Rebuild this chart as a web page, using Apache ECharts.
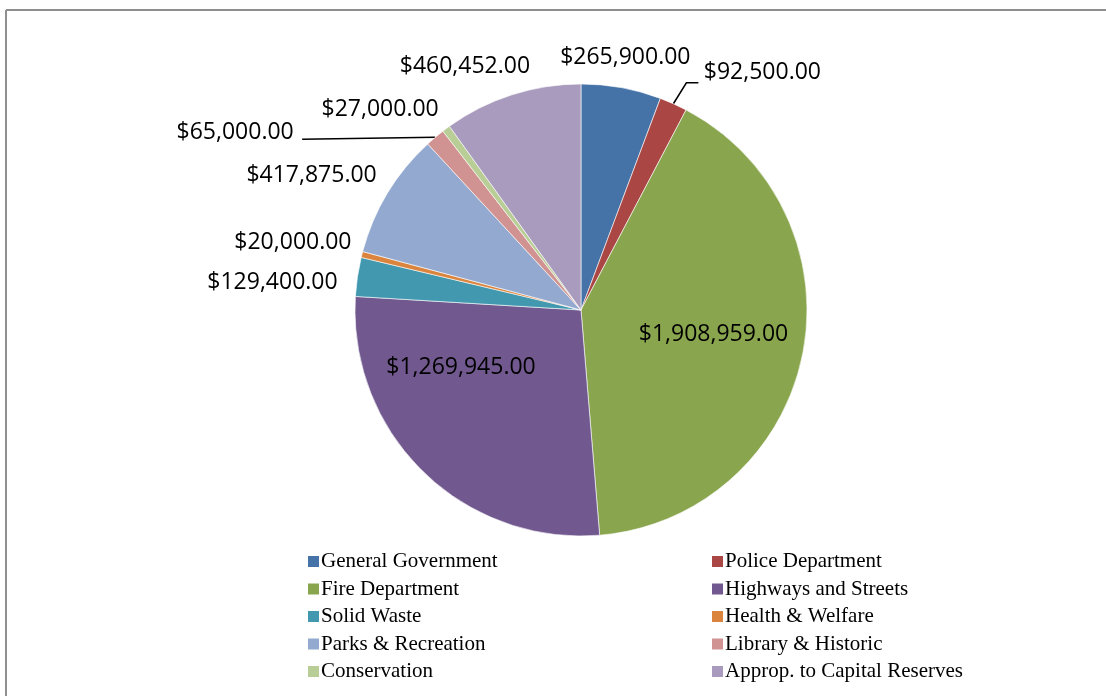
<!DOCTYPE html>
<html>
<head>
<meta charset="utf-8">
<script src="https://cdn.jsdelivr.net/npm/echarts@6/dist/echarts.min.js"></script>
<style>
html,body{margin:0;padding:0;background:#fff;overflow:hidden;}
#main{width:1106px;height:696px;}
</style>
</head>
<body>
<div id="main"></div>
<script>
// ---- data ----
const categories = [
  'General Government', 'Police Department', 'Fire Department', 'Highways and Streets',
  'Solid Waste', 'Health & Welfare', 'Parks & Recreation', 'Library & Historic',
  'Conservation', 'Approp. to Capital Reserves'
];
const values = [265900, 92500, 1908959, 1269945, 129400, 20000, 417875, 65000, 27000, 460452];
const colors = ['#4572A7', '#AA4643', '#89A54E', '#71588F', '#4198AF', '#DB843D', '#93A9CF', '#D19392', '#B9CD96', '#A99BBD'];

// ---- label layout (offset of label centre from the outer middle of each slice) ----
const labelOffsets = [[4,-30],[89,-31],[-89,-21],[38,-104],[-85,6],[-69,-12],[-76,-18],[-200,-5],[-66,-19],[-47,-28]];
// leader line bends (relative to slice outer mid point), only where a leader line is drawn
const leaderLines = {1: [[13,-21],[25,-21]], 7: [[-67,1],[-133,2]]};

const fmt = v => '$' + v.toLocaleString('en-US', {minimumFractionDigits: 2, maximumFractionDigits: 2});

const chart = echarts.init(document.getElementById('main'));

function edgePoint(idx) {
  const data = chart.getModel().getSeriesByIndex(0).getData();
  const l = data.getItemLayout(idx);
  const mid = (l.startAngle + l.endAngle) / 2;
  return [l.cx + l.r * Math.cos(mid), l.cy + l.r * Math.sin(mid)];
}

const pieData = categories.map((c, i) => ({
  name: c,
  value: values[i],
  itemStyle: {color: colors[i]},
  labelLine: {show: !!leaderLines[i]}
}));

const legendStyle = {
  orient: 'vertical',
  icon: 'rect',
  itemWidth: 11,
  itemHeight: 11,
  itemGap: 6.5,
  top: 551,
  padding: 0,
  itemStyle: {borderWidth: 0},
  textStyle: {fontFamily: 'Liberation Serif', fontSize: 21, color: '#000', lineHeight: 21, padding: [0,0,0,-3]},
  selectedMode: false
};

chart.setOption({
  animation: false,
  backgroundColor: '#fff',
  graphic: [
    {type: 'line', shape: {x1: 6, y1: 10, x2: 1106, y2: 10}, style: {stroke: '#8f8f8f', lineWidth: 2}, silent: true},
    {type: 'line', shape: {x1: 6, y1: 10, x2: 6, y2: 696}, style: {stroke: '#8f8f8f', lineWidth: 2}, silent: true}
  ],
  legend: [
    Object.assign({}, legendStyle, {left: 308, data: categories.filter((c, i) => i % 2 === 0)}),
    Object.assign({}, legendStyle, {left: 712, data: categories.filter((c, i) => i % 2 === 1)})
  ],
  series: [{
    type: 'pie',
    center: [581, 310],
    radius: 226,
    startAngle: 90,
    clockwise: true,
    avoidLabelOverlap: false,
    data: pieData,
    itemStyle: {borderColor: '#ffffff', borderWidth: 0.6},
    label: {
      show: true,
      position: 'outside',
      formatter: p => fmt(p.value),
      fontFamily: 'Open Sans',
      fontSize: 23,
      color: '#000'
    },
    labelLine: {lineStyle: {color: '#000', width: 1.5}, length: 10, length2: 10},
    labelLayout: function (params) {
      const i = params.dataIndex;
      let e;
      try { e = edgePoint(i); } catch (err) { return {}; }
      const o = labelOffsets[i];
      const res = {x: e[0] + o[0], y: e[1] + o[1], align: 'center', verticalAlign: 'middle'};
      if (leaderLines[i]) {
        res.labelLinePoints = [e, [e[0] + leaderLines[i][0][0], e[1] + leaderLines[i][0][1]], [e[0] + leaderLines[i][1][0], e[1] + leaderLines[i][1][1]]];
      }
      return res;
    }
  }]
});
</script>
</body>
</html>
